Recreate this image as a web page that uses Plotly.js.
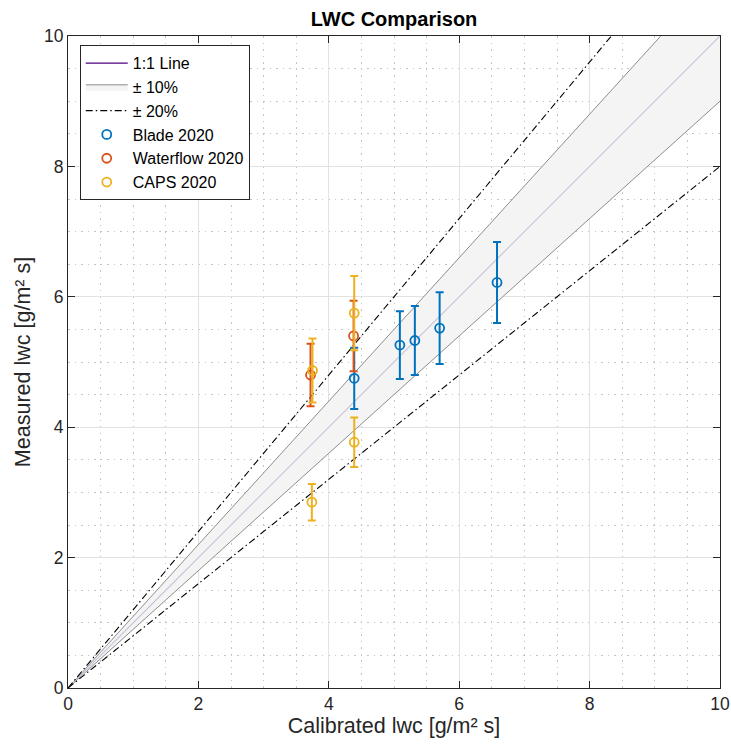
<!DOCTYPE html>
<html>
<head>
<meta charset="utf-8">
<script src="https://cdn.plot.ly/plotly-3.0.1.min.js"></script>
<style>
html,body{margin:0;padding:0;background:#fff;}
#chart{width:731px;height:749px;}
</style>
</head>
<body>
<div id="chart"></div>
<script>
// ---- Data ----
var refX = [0, 10];
var innerBand = 0.10;   // ±10%
var outerBand = 0.20;   // ±20%

var bladeX = [4.39, 5.09, 5.32, 5.70, 6.58];
var bladeY = [4.75, 5.26, 5.33, 5.52, 6.22];
var bladeErr = [0.47, 0.52, 0.53, 0.55, 0.62];

var waterX = [3.72, 4.38];
var waterY = [4.80, 5.40];
var waterErr = [0.48, 0.54];

var capsX = [3.75, 4.39, 4.39, 3.74];
var capsY = [4.87, 5.75, 3.77, 2.85];
var capsErr = [0.49, 0.57, 0.38, 0.28];

var xTicks = [0, 2, 4, 6, 8, 10];
var yTicks = [0, 2, 4, 6, 8, 10];

function scaled(k){ return refX.map(function(v){ return v * k; }); }

var FONT = 'Liberation Sans, Arial, Helvetica, sans-serif';
var axisColor = '#262626';
var dashDot = '7px,3px,1.5px,3px';

var traces = [
  // 1:1 legend entry (dark purple)
  {x:[null], y:[null], mode:'lines', name:'1:1 Line',
   line:{color:'#4b0082', width:1.2}, showlegend:true, hoverinfo:'skip'},
  // ±10% band
  {x:refX, y:scaled(1 - innerBand), mode:'lines', line:{color:'#8c8c8c', width:1},
   showlegend:false, hoverinfo:'skip'},
  {x:refX, y:scaled(1 + innerBand), mode:'lines', line:{color:'#8c8c8c', width:1},
   fill:'tonexty', fillcolor:'#f4f4f4', name:'\u00b1 10%', showlegend:true, hoverinfo:'skip'},
  // 1:1 line in plot (faded)
  {x:refX, y:scaled(1), mode:'lines', line:{color:'#cbc3d8', width:1.2},
   showlegend:false, hoverinfo:'skip'},
  // ±20% lines
  {x:refX, y:scaled(1 + outerBand), mode:'lines', name:'\u00b1 20%',
   line:{color:'#000000', width:1.1, dash:dashDot}, showlegend:true, hoverinfo:'skip'},
  {x:refX, y:scaled(1 - outerBand), mode:'lines',
   line:{color:'#000000', width:1.1, dash:dashDot}, showlegend:false, hoverinfo:'skip'},
  // data
  {x:bladeX, y:bladeY, mode:'markers', name:'Blade 2020',
   marker:{symbol:'circle-open', size:9, color:'#0072BD', line:{width:1.8, color:'#0072BD'}},
   error_y:{type:'data', array:bladeErr, visible:true, color:'#0072BD', thickness:2, width:4}},
  {x:waterX, y:waterY, mode:'markers', name:'Waterflow 2020',
   marker:{symbol:'circle-open', size:9, color:'#D95319', line:{width:1.8, color:'#D95319'}},
   error_y:{type:'data', array:waterErr, visible:true, color:'#D95319', thickness:2, width:4}},
  {x:capsX, y:capsY, mode:'markers', name:'CAPS 2020',
   marker:{symbol:'circle-open', size:9, color:'#EDB120', line:{width:1.8, color:'#EDB120'}},
   error_y:{type:'data', array:capsErr, visible:true, color:'#EDB120', thickness:2, width:4}}
];

function axis(title, ticks, standoff){
  return {
    range:[0,10], tickvals:ticks, ticktext:ticks.map(String),
    showline:true, linecolor:axisColor, linewidth:1, mirror:'ticks',
    ticks:'inside', ticklen:7, tickcolor:axisColor, tickwidth:1,
    showgrid:true, gridcolor:'#e2e2e2', gridwidth:1,
    minor:{dtick:0.5, showgrid:true, gridcolor:'#c4c4c4', griddash:'1.5px,5px', gridwidth:1, ticks:''},
    zeroline:false, fixedrange:true,
    tickfont:{family:FONT, size:17.5, color:axisColor},
    title:{text:title, font:{family:FONT, size:21.5, color:axisColor}, standoff:standoff}
  };
}

var layout = {
  width:731, height:749,
  margin:{l:68, r:11, t:36, b:61},
  paper_bgcolor:'#ffffff', plot_bgcolor:'#ffffff',
  title:{text:'<b>LWC Comparison</b>', xref:'paper', x:0.5, xanchor:'center',
         yref:'container', y:0.975, yanchor:'middle',
         font:{family:FONT, size:20, color:'#000000'}},
  xaxis:axis('Calibrated lwc [g/m\u00b2 s]', xTicks, 4),
  yaxis:axis('Measured lwc [g/m\u00b2 s]', yTicks, 7),
  showlegend:true,
  legend:{x:0.018, y:0.986, xanchor:'left', yanchor:'top',
          bgcolor:'#ffffff', bordercolor:'#262626', borderwidth:1,
          font:{family:FONT, size:16, color:'#000000'}, itemwidth:42,
          tracegroupgap:0, traceorder:'normal'}
};

Plotly.newPlot('chart', traces, layout, {displayModeBar:false, staticPlot:true});
</script>
</body>
</html>
